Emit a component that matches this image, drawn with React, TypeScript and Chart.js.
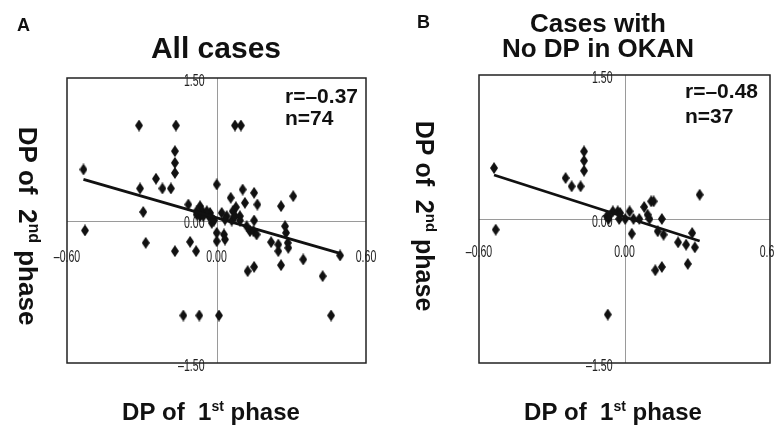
import React, { useEffect, useRef } from "react";
import { Chart, registerables } from "chart.js";
Chart.register(...registerables);

const FONT = "'Liberation Sans', Arial, Helvetica, sans-serif";

// Axis ticks
const xTickValues = [-0.6, 0, 0.6];
const xTickLabels = ["\u20130.60", "0.00", "0.60"];
const yTickValues = [1.5, 0, -1.5];
const yTickLabels = ["1.50", "0.00", "\u20131.50"];

// Panel A: all cases
const aX = [-0.534, -0.528, -0.311, -0.163, 0.074, 0.098, -0.167, -0.167, -0.167, -0.243, -0.307, -0.217, -0.183, -0.294, -0.284, -0.167, -0.106, -0.082, -0.113, -0.066, -0.056, -0.08, -0.026, -0.019, 0.001, 0.001, 0.001, 0.021, 0.03, 0.034, 0.057, 0.078, 0.094, 0.061, 0.105, 0.114, 0.151, 0.164, 0.151, 0.134, 0.148, 0.161, 0.151, 0.125, 0.219, 0.248, 0.248, 0.259, 0.259, 0.275, 0.279, 0.286, 0.288, 0.308, 0.348, 0.426, 0.496, -0.133, -0.069, 0.01, 0.46, -0.031, 0.065, 0.041, 0.094, -0.019, -0.066, -0.039, -0.01, -0.053, 0.034, -0.08, 0.074, 0.121];
const aY = [0.537, -0.105, 1.0, 1.0, 1.0, 1.0, 0.73, 0.607, 0.5, 0.44, 0.337, 0.337, 0.337, 0.09, -0.235, -0.323, -0.225, -0.323, 0.168, 0.15, 0.098, 0.063, 0.08, 0.028, 0.379, -0.13, -0.218, 0.08, -0.147, -0.2, 0.239, 0.14, 0.046, 0, 0.326, 0.186, 0.291, 0.168, 0, -0.112, -0.112, -0.147, -0.488, -0.533, -0.228, -0.253, -0.323, 0.151, -0.47, -0.06, -0.13, -0.235, -0.288, 0.256, -0.41, -0.586, -0.368, -1.0, -1.0, -1.0, -1.0, 0.046, 0.098, 0.046, 0, -0.025, 0.046, 0.098, 0, 0.046, 0.01, 0.098, 0.046, -0.06];
const aFitX = [-0.534, 0.496];
const aFitY = [0.432, -0.347];

// Panel B: cases with no DP in OKAN
const bX = [-0.538, -0.531, -0.243, -0.218, -0.181, -0.167, -0.167, -0.167, -0.073, -0.066, -0.048, -0.028, -0.018, -0.022, 0.003, 0.021, 0.03, 0.037, 0.061, 0.081, 0.095, 0.103, 0.11, 0.12, 0.137, 0.154, 0.161, 0.221, 0.254, 0.279, 0.29, 0.261, 0.31, 0.127, 0.154, -0.069, -0.063];
const bY = [0.531, -0.111, 0.427, 0.34, 0.34, 0.704, 0.607, 0.503, 0.028, 0, 0.08, 0.08, 0.062, 0, 0, 0.08, -0.153, 0, 0, 0.125, 0.045, 0, 0.184, 0.184, -0.128, 0, -0.163, -0.243, -0.267, -0.146, -0.295, -0.468, 0.253, -0.534, -0.5, -0.995, 0.028];
const bFitX = [-0.538, 0.31];
const bFitY = [0.458, -0.229];

// Texts
const letterA = "A";
const letterB = "B";
const titleA = ["All cases"];
const titleB = ["Cases with", "No DP in OKAN"];
const statsA = ["r=\u20130.37", "n=74"];
const statsB = ["r=\u20130.48", "n=37"];
const xTitleParts = ["DP of  1", "st", " phase"];
const yTitleParts = ["DP of  2", "nd", " phase"];

function makeDiamond(): HTMLCanvasElement {
  const c = document.createElement("canvas");
  c.width = 8;
  c.height = 12;
  const g = c.getContext("2d")!;
  g.fillStyle = "#111";
  g.beginPath();
  g.moveTo(4, 0);
  g.lineTo(8, 6);
  g.lineTo(4, 12);
  g.lineTo(0, 6);
  g.closePath();
  g.fill();
  return c;
}

function drawSupText(ctx: CanvasRenderingContext2D, parts: string[], cx: number, baseline: number, size: number) {
  const main = `bold ${size}px ${FONT}`;
  const sub = `bold ${Math.round(size * 0.6)}px ${FONT}`;
  ctx.font = main;
  const w1 = ctx.measureText(parts[0]).width;
  const w3 = ctx.measureText(parts[2]).width;
  ctx.font = sub;
  const w2 = ctx.measureText(parts[1]).width;
  let x = cx - (w1 + w2 + w3) / 2;
  ctx.textAlign = "left";
  ctx.textBaseline = "alphabetic";
  ctx.font = main;
  ctx.fillText(parts[0], x, baseline);
  x += w1;
  ctx.font = sub;
  ctx.fillText(parts[1], x, baseline - size * 0.38);
  x += w2;
  ctx.font = main;
  ctx.fillText(parts[2], x, baseline);
}

function narrow(ctx: CanvasRenderingContext2D, text: string, x: number, y: number, align: CanvasTextAlign, sx: number) {
  ctx.save();
  ctx.translate(x, y);
  ctx.scale(sx, 1);
  ctx.textAlign = align;
  ctx.textBaseline = "middle";
  ctx.fillText(text, 0, 0);
  ctx.restore();
}

type PanelCfg = {
  letter: string;
  letterPos: [number, number];
  title: string[];
  titleX: number;
  titleBaselines: number[];
  titleSize: number;
  stats: string[];
  statsX: number;
  statsBaselines: number[];
  xTitleX: number;
  xTitleBaseline: number;
  xTitleSize: number;
  yTitleBaseX: number;
  yTitleCY: number;
  yTitleSize: number;
  xLabelOffset: number;
};

function decorPlugin(p: PanelCfg) {
  return {
    id: "decor",
    beforeDatasetsDraw(chart: any) {
      const { ctx, chartArea: ca, scales } = chart;
      const sx = scales.x, sy = scales.y;
      const x0 = Math.round(sx.getPixelForValue(0)) + 0.5;
      const y0 = Math.round(sy.getPixelForValue(0)) + 0.5;
      ctx.save();
      ctx.strokeStyle = "#9a9a9a";
      ctx.lineWidth = 1;
      ctx.beginPath();
      ctx.moveTo(x0, ca.top);
      ctx.lineTo(x0, ca.bottom);
      ctx.moveTo(ca.left, y0);
      ctx.lineTo(ca.right, y0);
      ctx.stroke();
      ctx.strokeStyle = "#222";
      ctx.lineWidth = 1.5;
      ctx.strokeRect(ca.left, ca.top, ca.right - ca.left, ca.bottom - ca.top);

      ctx.fillStyle = "#222";
      ctx.font = `17px ${FONT}`;
      xTickValues.forEach((v, i) => {
        narrow(ctx, xTickLabels[i], sx.getPixelForValue(v), y0 + p.xLabelOffset, "center", 0.62);
      });
      yTickValues.forEach((v, i) => {
        narrow(ctx, yTickLabels[i], x0 - 13, sy.getPixelForValue(v) + 3, "right", 0.62);
      });
      ctx.restore();
    },
    afterDatasetsDraw(chart: any) {
      const { ctx } = chart;
      ctx.save();
      ctx.fillStyle = "#111";
      ctx.textAlign = "left";
      ctx.textBaseline = "alphabetic";
      ctx.font = `bold 18px ${FONT}`;
      ctx.fillText(p.letter, p.letterPos[0], p.letterPos[1]);

      ctx.textAlign = "center";
      ctx.font = `bold ${p.titleSize}px ${FONT}`;
      p.title.forEach((t, i) => ctx.fillText(t, p.titleX, p.titleBaselines[i]));

      ctx.textAlign = "left";
      ctx.font = `bold 21px ${FONT}`;
      p.stats.forEach((t, i) => ctx.fillText(t, p.statsX, p.statsBaselines[i]));

      drawSupText(ctx, xTitleParts, p.xTitleX, p.xTitleBaseline, p.xTitleSize);

      ctx.save();
      ctx.translate(p.yTitleBaseX, p.yTitleCY);
      ctx.rotate(Math.PI / 2);
      drawSupText(ctx, yTitleParts, 0, 0, p.yTitleSize);
      ctx.restore();
      ctx.restore();
    },
  };
}

function makeChart(canvas: HTMLCanvasElement, xs: number[], ys: number[], fx: number[], fy: number[], padding: any, p: PanelCfg) {
  const diamond = makeDiamond();
  return new Chart(canvas, {
    type: "scatter",
    data: {
      datasets: [
        {
          data: fx.map((v, i) => ({ x: v, y: fy[i] })),
          showLine: true,
          borderColor: "#111",
          borderWidth: 2.8,
          pointRadius: 0,
          fill: false,
        } as any,
        {
          data: xs.map((v, i) => ({ x: v, y: ys[i] })),
          pointStyle: diamond,
          pointRadius: 4,
          backgroundColor: "#111",
          borderWidth: 0,
        } as any,
      ],
    },
    options: {
      animation: false,
      responsive: false,
      devicePixelRatio: 1,
      events: [],
      layout: { padding },
      scales: {
        x: { type: "linear", min: -0.6, max: 0.6, display: false },
        y: { type: "linear", min: -1.5, max: 1.5, display: false },
      },
      plugins: { legend: { display: false }, tooltip: { enabled: false } },
    },
    plugins: [decorPlugin(p)],
  });
}

export default function App() {
  const refA = useRef<HTMLCanvasElement>(null);
  const refB = useRef<HTMLCanvasElement>(null);
  useEffect(() => {
    const cA = makeChart(refA.current!, aX, aY, aFitX, aFitY, { left: 67, right: 21, top: 78, bottom: 63 }, {
      letter: letterA,
      letterPos: [17, 31],
      title: titleA,
      titleX: 216,
      titleBaselines: [58],
      titleSize: 30,
      stats: statsA,
      statsX: 285,
      statsBaselines: [103, 125],
      xTitleX: 211,
      xTitleBaseline: 420,
      xTitleSize: 24,
      yTitleBaseX: 19,
      yTitleCY: 226,
      yTitleSize: 26,
      xLabelOffset: 36,
    });
    const cB = makeChart(refB.current!, bX, bY, bFitX, bFitY, { left: 92, right: 4, top: 75, bottom: 63 }, {
      letter: letterB,
      letterPos: [30, 28],
      title: titleB,
      titleX: 211,
      titleBaselines: [32, 57],
      titleSize: 26,
      stats: statsB,
      statsX: 298,
      statsBaselines: [98, 123],
      xTitleX: 226,
      xTitleBaseline: 420,
      xTitleSize: 24,
      yTitleBaseX: 29,
      yTitleCY: 216,
      yTitleSize: 25,
      xLabelOffset: 33,
    });
    return () => {
      cA.destroy();
      cB.destroy();
    };
  }, []);
  return (
    <div style={{ position: "fixed", left: 0, top: 0, width: 774, height: 426, background: "#fff", overflow: "hidden" }}>
      <canvas ref={refA} width={387} height={426} style={{ position: "absolute", left: 0, top: 0, width: 387, height: 426 }} />
      <canvas ref={refB} width={387} height={426} style={{ position: "absolute", left: 387, top: 0, width: 387, height: 426 }} />
    </div>
  );
}
